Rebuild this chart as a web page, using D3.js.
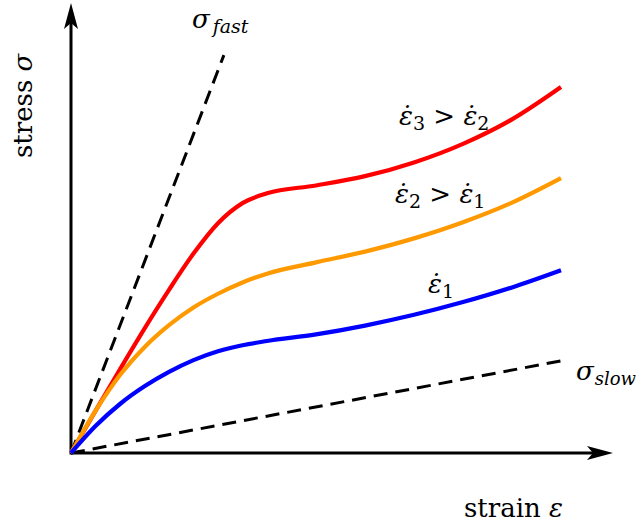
<!DOCTYPE html>
<html>
<head>
<meta charset="utf-8">
<script src="https://cdn.jsdelivr.net/npm/d3@7"></script>
<style>
  html, body { margin: 0; padding: 0; background: #fff; }
  svg text { font-family: "DejaVu Serif", "Liberation Serif", serif; fill: #000; }
</style>
</head>
<body>
<svg id="chart" width="636" height="527"></svg>
<script>
// Strain sample points shared by the three loading-rate curves
const strain = [0, 0.5, 1, 1.5, 2, 2.5, 3, 3.5, 4, 5, 6, 7, 8, 9, 10];

// Stress response for each strain rate (schematic units)
const stressRate3 = [0, 0.86, 1.71, 2.54, 3.33, 4.07, 4.69, 5.1, 5.3, 5.46, 5.65, 5.93, 6.31, 6.81, 7.47];
const stressRate2 = [0, 0.86, 1.59, 2.16, 2.61, 2.97, 3.25, 3.48, 3.66, 3.89, 4.11, 4.38, 4.71, 5.11, 5.61];
const stressRate1 = [0, 0.55, 1.0, 1.36, 1.655, 1.895, 2.075, 2.2, 2.285, 2.42, 2.6, 2.82, 3.08, 3.38, 3.73];

// Linear elastic limits: instantaneous (fast) and fully relaxed (slow)
const fastLimit = [[0, 0], [3.12, 8.12]];
const slowLimit = [[0, 0], [10, 1.88]];

const seriesColors = ["#ff0000", "#ff9900", "#0000ff"];
const seriesNames = ["rate3", "rate2", "rate1"];

const svg = d3.select("#chart");

const x = d3.scaleLinear().domain([0, 10]).range([71, 561]);
const y = d3.scaleLinear().domain([0, 9]).range([453, 12]);

// Axes with arrowheads
const axisTipX = 613, axisTipY = 3;
const ax = svg.append("g").attr("class", "axes");
ax.append("line")
  .attr("x1", x(0)).attr("y1", y(0)).attr("x2", axisTipX - 10).attr("y2", y(0))
  .attr("stroke", "#000").attr("stroke-width", 3);
ax.append("line")
  .attr("x1", x(0)).attr("y1", y(0) + 1.5).attr("x2", x(0)).attr("y2", axisTipY + 10)
  .attr("stroke", "#000").attr("stroke-width", 3);

// stealth-style arrowhead pointing right, tip at origin of its local frame
const arrowPath = "M0,0 L-26,-7 L-20,0 L-26,7 Z";
ax.append("path").attr("d", arrowPath)
  .attr("transform", `translate(${axisTipX},${y(0)})`).attr("fill", "#000");
ax.append("path").attr("d", arrowPath)
  .attr("transform", `translate(${x(0)},${axisTipY}) rotate(-90)`).attr("fill", "#000");

// Dashed elastic limits
const lineGen = d3.line().x(d => x(d[0])).y(d => y(d[1]));
[fastLimit, slowLimit].forEach(pts => {
  svg.append("path")
    .attr("d", lineGen(pts))
    .attr("fill", "none").attr("stroke", "#000")
    .attr("stroke-width", 3).attr("stroke-dasharray", "14,8");
});

// Stress-strain curves
const curve = d3.line()
  .x(d => x(d[0])).y(d => y(d[1]))
  .curve(d3.curveMonotoneX);
[stressRate3, stressRate2, stressRate1].forEach((vals, i) => {
  svg.append("path")
    .attr("class", seriesNames[i])
    .attr("d", curve(strain.map((s, k) => [s, vals[k]])))
    .attr("fill", "none")
    .attr("stroke", seriesColors[i])
    .attr("stroke-width", 4.2)
    .attr("stroke-linejoin", "round");
});

// Axis titles
const mainSize = 26, subSize = 19;
const xt = svg.append("text").attr("x", 464).attr("y", 517).attr("font-size", mainSize);
xt.append("tspan").text("strain ");
xt.append("tspan").attr("font-style", "italic").text("ε");

const yt = svg.append("text")
  .attr("transform", "translate(32,158) rotate(-90)")
  .attr("font-size", mainSize);
yt.append("tspan").text("stress ");
yt.append("tspan").attr("font-style", "italic").text("σ");

// Labels for the limiting lines
function sigmaLabel(px, py, sub, size, gap) {
  const t = svg.append("text").attr("x", px).attr("y", py).attr("font-size", mainSize);
  t.append("tspan").attr("font-style", "italic").text("σ");
  t.append("tspan").attr("font-style", "italic").attr("font-size", size)
    .attr("dx", gap).attr("dy", 5).text(sub);
}
sigmaLabel(192, 28, "fast", subSize, 3);
sigmaLabel(576, 380, "slow", 18, 1);

// Strain-rate labels
function rateLabel(px, py, parts) {
  const t = svg.append("text").attr("x", px).attr("y", py).attr("font-size", mainSize);
  let shifted = false;
  parts.forEach(p => {
    if (typeof p === "string") {
      t.append("tspan").attr("dy", shifted ? -5 : 0).text(p);
      shifted = false;
    } else {
      t.append("tspan").attr("font-style", "italic").attr("dy", shifted ? -5 : 0).text("ε\u0307");
      t.append("tspan").attr("font-size", subSize).attr("dy", 5).text(p.sub);
      shifted = true;
    }
  });
}
rateLabel(399, 125, [{ sub: "3" }, " > ", { sub: "2" }]);
rateLabel(395, 203, [{ sub: "2" }, " > ", { sub: "1" }]);
rateLabel(428, 293, [{ sub: "1" }]);
</script>
</body>
</html>
